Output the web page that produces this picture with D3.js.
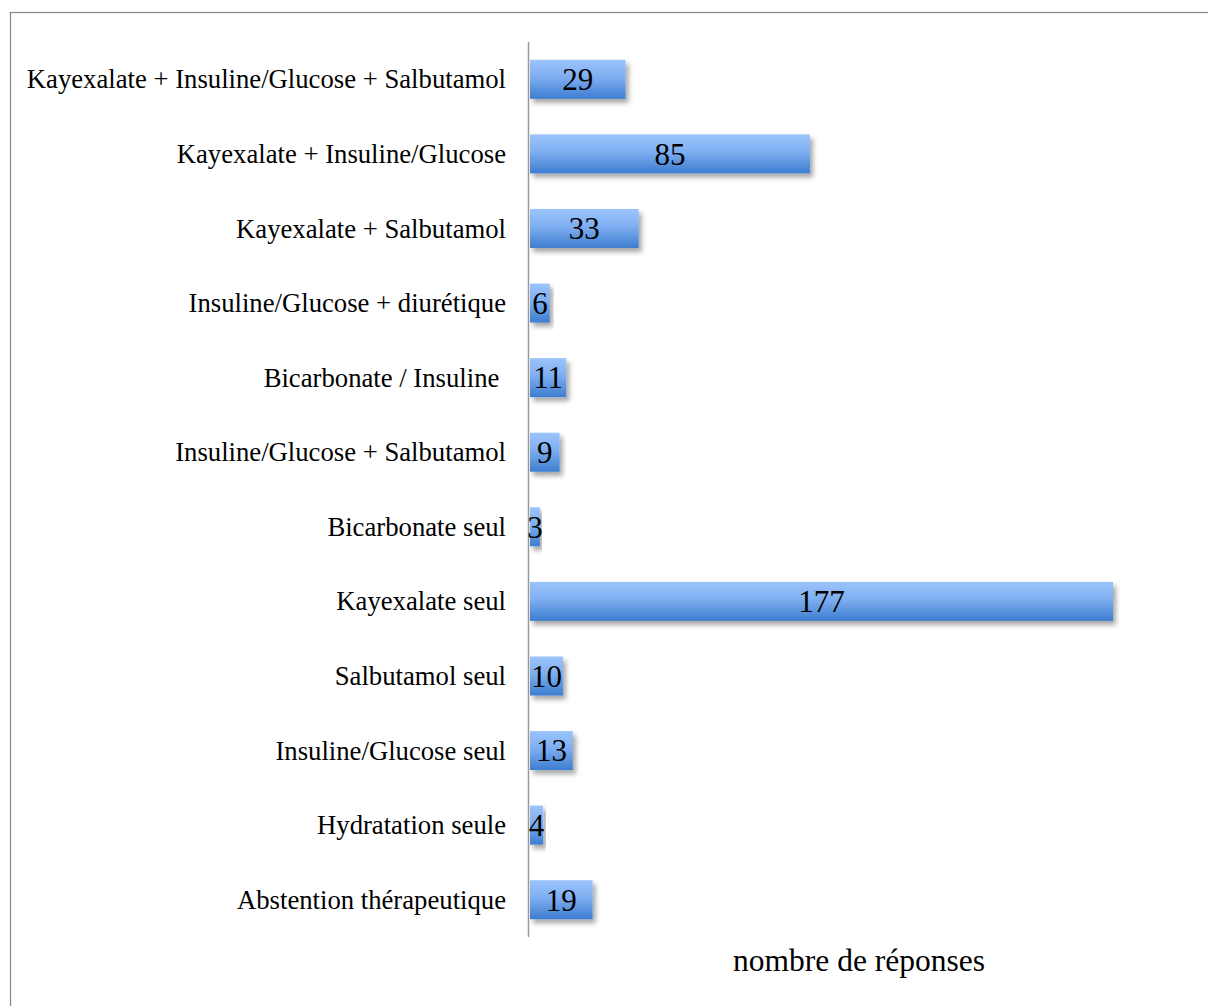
<!DOCTYPE html>
<html><head><meta charset="utf-8">
<script src="https://cdn.jsdelivr.net/npm/d3@7"></script>
<style>body{margin:0;background:#fff;} svg{display:block;}</style>
</head><body>
<script>
const categories = [
  "Kayexalate + Insuline/Glucose + Salbutamol",
  "Kayexalate + Insuline/Glucose",
  "Kayexalate + Salbutamol",
  "Insuline/Glucose + diurétique",
  "Bicarbonate / Insuline\u00a0",
  "Insuline/Glucose + Salbutamol",
  "Bicarbonate seul",
  "Kayexalate seul",
  "Salbutamol seul",
  "Insuline/Glucose seul",
  "Hydratation seule",
  "Abstention thérapeutique"
];
const values = [29, 85, 33, 6, 11, 9, 3, 177, 10, 13, 4, 19];
const axisTitle = "nombre de réponses";

const W = 1208, H = 1006;
const svg = d3.select("body").append("svg").attr("width", W).attr("height", H);
const defs = svg.append("defs");
const grad = defs.append("linearGradient").attr("id","g").attr("x1",0).attr("y1",0).attr("x2",0).attr("y2",1);
grad.append("stop").attr("offset","0%").attr("stop-color","#9cc4fc");
grad.append("stop").attr("offset","45%").attr("stop-color","#7eaef0");
grad.append("stop").attr("offset","100%").attr("stop-color","#3d7dd0");
const f = defs.append("filter").attr("id","sh").attr("x","-10%").attr("y","-30%").attr("width","130%").attr("height","190%");
f.append("feDropShadow").attr("dx",3).attr("dy",4).attr("stdDeviation",2.5).attr("flood-color","#000").attr("flood-opacity",0.35);

svg.append("rect").attr("x",10.5).attr("y",12.5).attr("width",W).attr("height",H)
  .attr("fill","none").attr("stroke","#888").attr("stroke-width",1.2);

const x = d3.scaleLinear().domain([0,177]).range([530,1113]);
const y = d3.scaleBand().domain(categories).range([42,937]).paddingInner(0.477).paddingOuter(0.2385);

svg.selectAll("rect.bar").data(values).join("rect").attr("class","bar")
  .attr("x", x(0)).attr("y",(d,i)=>y(categories[i]))
  .attr("width", d=>x(d)-x(0)).attr("height", y.bandwidth())
  .attr("fill","url(#g)").attr("filter","url(#sh)");

svg.append("line").attr("x1",528.5).attr("x2",528.5).attr("y1",42).attr("y2",937)
  .attr("stroke","#999").attr("stroke-width",1.5);

const font = "'Liberation Serif','Times New Roman',serif";
svg.selectAll("text.cat").data(categories).join("text").attr("class","cat")
  .attr("x",506).attr("y",d=>y(d)+y.bandwidth()/2).attr("dy","0.34em")
  .attr("text-anchor","end").attr("font-family",font).attr("font-size",26.7).attr("fill","#000")
  .style("white-space","pre").text(d=>d);

svg.selectAll("text.val").data(values).join("text").attr("class","val")
  .attr("x",d=>(x(0)+x(d))/2).attr("y",(d,i)=>y(categories[i])+y.bandwidth()/2).attr("dy","0.35em")
  .attr("text-anchor","middle").attr("font-family",font).attr("font-size",31).attr("fill","#000")
  .text(d=>d);

svg.append("text").attr("x",859).attr("y",971).attr("text-anchor","middle")
  .attr("font-family",font).attr("font-size",31.5).attr("fill","#000").text(axisTitle);
</script>
</body></html>
